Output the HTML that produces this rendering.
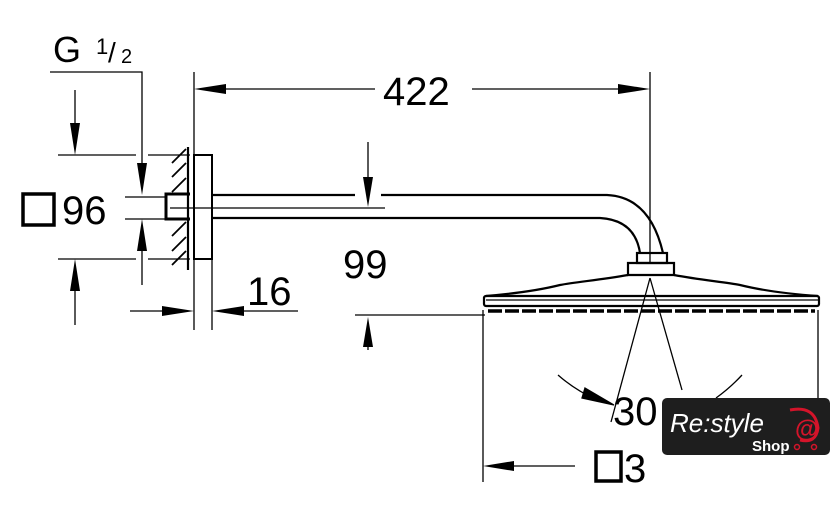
<!DOCTYPE html>
<html><head><meta charset="utf-8"><style>
html,body{margin:0;padding:0;background:#fff}
svg{display:block}
text{font-family:"Liberation Sans",sans-serif;fill:#000}
</style></head><body>
<svg width="840" height="506" viewBox="0 0 840 506" xmlns="http://www.w3.org/2000/svg">
<g stroke="#000" fill="none" stroke-width="1.3">
<polyline points="50,72 142,72 142,165"/>
<path d="M137,163 L142,195 L147,163 z" fill="#000" stroke="none"/>
<line x1="75" y1="90" x2="75" y2="125"/>
<path d="M70,123 L75,155 L80,123 z" fill="#000" stroke="none"/>
<line x1="58" y1="155" x2="136" y2="155"/><line x1="148" y1="155" x2="190" y2="155"/>
<line x1="58" y1="259" x2="136" y2="259"/><line x1="148" y1="259" x2="190" y2="259"/>
<line x1="75" y1="325" x2="75" y2="290"/>
<path d="M70,291 L75,259 L80,291 z" fill="#000" stroke="none"/>
<line x1="125" y1="197" x2="165" y2="197"/><line x1="125" y1="219" x2="165" y2="219"/>
<line x1="142" y1="285" x2="142" y2="250"/>
<path d="M137,251 L142,219 L147,251 z" fill="#000" stroke="none"/>
<line x1="188" y1="147" x2="188" y2="270" stroke-width="2.2"/>
<line x1="194" y1="72" x2="194" y2="330"/>
<line x1="212" y1="259" x2="212" y2="330"/>
<g stroke-width="1.8">
<line x1="172" y1="163" x2="186" y2="149"/><line x1="172" y1="177" x2="186" y2="163"/>
<line x1="172" y1="192" x2="186" y2="178"/><line x1="172" y1="236" x2="186" y2="222"/>
<line x1="172" y1="251" x2="186" y2="237"/><line x1="172" y1="265" x2="186" y2="251"/>
</g>
<rect x="194" y="155" width="18" height="104" stroke-width="2"/>
<path d="M190,194 L166,194 L166,219 L190,219" stroke-width="3"/>
<line x1="170" y1="208" x2="385" y2="208"/>
<g stroke-width="2.2">
<line x1="212" y1="195" x2="355" y2="195"/>
<path d="M381,195 L607,195 Q650,197 663,253"/>
<path d="M212,218 L600,218 Q635,220 640,253"/>
</g>
<line x1="368" y1="142" x2="368" y2="180"/>
<path d="M363,177 L368,207 L373,177 z" fill="#000" stroke="none"/>
<line x1="224" y1="89" x2="375" y2="89"/>
<path d="M226,84 L194,89 L226,94 z" fill="#000" stroke="none"/>
<line x1="472" y1="89" x2="620" y2="89"/>
<path d="M618,84 L650,89 L618,94 z" fill="#000" stroke="none"/>
<line x1="650" y1="72" x2="650" y2="262"/>
<line x1="130" y1="311" x2="165" y2="311"/>
<path d="M162,306 L194,311 L162,316 z" fill="#000" stroke="none"/>
<line x1="298" y1="311" x2="244" y2="311"/>
<path d="M244,306 L212,311 L244,316 z" fill="#000" stroke="none"/>
<line x1="355" y1="315" x2="485" y2="315"/>
<line x1="368" y1="350" x2="368" y2="345"/>
<path d="M363,347 L368,317 L373,347 z" fill="#000" stroke="none"/>
<g stroke-width="2.2">
<rect x="637" y="253" width="30" height="10"/>
<path d="M628,263 L674,263 L674,275 L628,275 z"/>
<path d="M628,275 C600,280 575,282 560,285 C540,290 510,294 486,296"/>
<path d="M674,275 C700,280 725,282 740,285 C760,290 790,294 818,296"/>
<rect x="484" y="296" width="335" height="10" rx="2"/>
</g>
<line x1="486" y1="300" x2="818" y2="300" stroke-width="1.2"/>
<line x1="488" y1="311" x2="815" y2="311" stroke-width="3.5" stroke-dasharray="14,3"/>
<line x1="483" y1="310" x2="483" y2="482"/>
<line x1="818" y1="310" x2="818" y2="398"/>
<line x1="650" y1="278" x2="611" y2="422"/>
<line x1="650" y1="278" x2="682" y2="390"/>
<path d="M558,375 Q575,390 597,400"/>
<path d="M585,388 L614,405 L582,398 z" fill="#000"/>
<path d="M742,375 Q730,388 716,398"/>
<line x1="575" y1="466" x2="512" y2="466"/>
<path d="M514,461 L483,466 L514,471 z" fill="#000" stroke="none"/>
<rect x="596" y="452" width="25" height="29" stroke-width="3.5"/>
<rect x="23" y="194" width="31" height="31" stroke-width="3.5"/>
</g>
<text x="53" y="62" font-size="36">G</text>
<text x="96" y="54" font-size="22">1</text>
<text x="108" y="62" font-size="28">/</text>
<text x="121" y="63" font-size="20">2</text>
<text x="62" y="224" font-size="40">96</text>
<text x="383" y="105" font-size="40">422</text>
<text x="343" y="278" font-size="40">99</text>
<text x="247" y="305" font-size="40">16</text>
<text x="613" y="425" font-size="40">30</text>
<text x="624" y="482" font-size="40">3</text>
<rect x="662" y="398" width="168" height="57" rx="5" fill="#1e1e1e"/>
<text x="670" y="432" font-size="26" font-style="italic" style="fill:#fff">Re:style</text>
<text x="752" y="451" font-size="15" font-weight="bold" style="fill:#fff">Shop</text>
<path d="M790,410 Q815,405 818,428 Q816,444 800,440" fill="none" stroke="#d4142a" stroke-width="3"/>
<text x="795" y="437" font-size="24" font-weight="bold" style="fill:#d4142a">@</text>
<circle cx="797" cy="447" r="2.5" fill="none" stroke="#d4142a" stroke-width="1.5"/>
<circle cx="814" cy="447" r="2.5" fill="none" stroke="#d4142a" stroke-width="1.5"/>
</svg>
</body></html>
